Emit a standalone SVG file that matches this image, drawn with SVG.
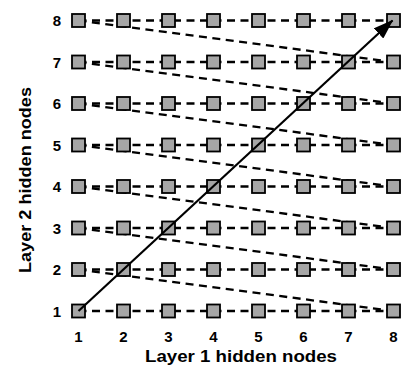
<svg xmlns="http://www.w3.org/2000/svg" width="402" height="365" viewBox="0 0 402 365">
  <defs>
    <style>
      .node { fill: #a6a6a6; stroke: #000; stroke-width: 1.8; }
      .dash { stroke: #000; stroke-width: 2.3; stroke-dasharray: 8 5.5; fill: none; }
      .trend { stroke: #000; stroke-width: 2.2; fill: none; }
      .lbl { font-family: "Liberation Sans", Arial, sans-serif; font-weight: bold; font-size: 15px; fill: #000; text-anchor: middle; }
      .axis { font-family: "Liberation Sans", Arial, sans-serif; font-weight: bold; font-size: 17px; fill: #000; text-anchor: middle; }
    </style>
    <marker id="head" markerUnits="userSpaceOnUse" markerWidth="20" markerHeight="14" refX="19" refY="7" orient="auto">
      <path d="M0,0 L20,7 L0,14 Z" fill="#000"/>
    </marker>
    <rect id="sq" x="-6.5" y="-6.5" width="13" height="13" class="node"/>
  </defs>

  <rect width="402" height="365" fill="#fff"/>

  <!-- dashed traversal: each row left to right, then back to the start of the next row -->
  <g id="connectors">
    <line class="dash" x1="78.5" y1="311" x2="393.5" y2="311"/>
    <line class="dash" x1="78.5" y1="269.5" x2="393.5" y2="269.5"/>
    <line class="dash" x1="78.5" y1="228" x2="393.5" y2="228"/>
    <line class="dash" x1="78.5" y1="186.5" x2="393.5" y2="186.5"/>
    <line class="dash" x1="78.5" y1="145" x2="393.5" y2="145"/>
    <line class="dash" x1="78.5" y1="103.5" x2="393.5" y2="103.5"/>
    <line class="dash" x1="78.5" y1="62" x2="393.5" y2="62"/>
    <line class="dash" x1="78.5" y1="20.5" x2="393.5" y2="20.5"/>

    <line class="dash" x1="78.5" y1="269.5" x2="393.5" y2="311"/>
    <line class="dash" x1="78.5" y1="228" x2="393.5" y2="269.5"/>
    <line class="dash" x1="78.5" y1="186.5" x2="393.5" y2="228"/>
    <line class="dash" x1="78.5" y1="145" x2="393.5" y2="186.5"/>
    <line class="dash" x1="78.5" y1="103.5" x2="393.5" y2="145"/>
    <line class="dash" x1="78.5" y1="62" x2="393.5" y2="103.5"/>
    <line class="dash" x1="78.5" y1="20.5" x2="393.5" y2="62"/>
  </g>

  <!-- 8 x 8 grid of hidden-node pairs -->
  <g id="row-1">
    <use href="#sq" x="78.5" y="311"/><use href="#sq" x="123.5" y="311"/><use href="#sq" x="168.5" y="311"/><use href="#sq" x="213.5" y="311"/>
    <use href="#sq" x="258.5" y="311"/><use href="#sq" x="303.5" y="311"/><use href="#sq" x="348.5" y="311"/><use href="#sq" x="393.5" y="311"/>
  </g>
  <g id="row-2">
    <use href="#sq" x="78.5" y="269.5"/><use href="#sq" x="123.5" y="269.5"/><use href="#sq" x="168.5" y="269.5"/><use href="#sq" x="213.5" y="269.5"/>
    <use href="#sq" x="258.5" y="269.5"/><use href="#sq" x="303.5" y="269.5"/><use href="#sq" x="348.5" y="269.5"/><use href="#sq" x="393.5" y="269.5"/>
  </g>
  <g id="row-3">
    <use href="#sq" x="78.5" y="228"/><use href="#sq" x="123.5" y="228"/><use href="#sq" x="168.5" y="228"/><use href="#sq" x="213.5" y="228"/>
    <use href="#sq" x="258.5" y="228"/><use href="#sq" x="303.5" y="228"/><use href="#sq" x="348.5" y="228"/><use href="#sq" x="393.5" y="228"/>
  </g>
  <g id="row-4">
    <use href="#sq" x="78.5" y="186.5"/><use href="#sq" x="123.5" y="186.5"/><use href="#sq" x="168.5" y="186.5"/><use href="#sq" x="213.5" y="186.5"/>
    <use href="#sq" x="258.5" y="186.5"/><use href="#sq" x="303.5" y="186.5"/><use href="#sq" x="348.5" y="186.5"/><use href="#sq" x="393.5" y="186.5"/>
  </g>
  <g id="row-5">
    <use href="#sq" x="78.5" y="145"/><use href="#sq" x="123.5" y="145"/><use href="#sq" x="168.5" y="145"/><use href="#sq" x="213.5" y="145"/>
    <use href="#sq" x="258.5" y="145"/><use href="#sq" x="303.5" y="145"/><use href="#sq" x="348.5" y="145"/><use href="#sq" x="393.5" y="145"/>
  </g>
  <g id="row-6">
    <use href="#sq" x="78.5" y="103.5"/><use href="#sq" x="123.5" y="103.5"/><use href="#sq" x="168.5" y="103.5"/><use href="#sq" x="213.5" y="103.5"/>
    <use href="#sq" x="258.5" y="103.5"/><use href="#sq" x="303.5" y="103.5"/><use href="#sq" x="348.5" y="103.5"/><use href="#sq" x="393.5" y="103.5"/>
  </g>
  <g id="row-7">
    <use href="#sq" x="78.5" y="62"/><use href="#sq" x="123.5" y="62"/><use href="#sq" x="168.5" y="62"/><use href="#sq" x="213.5" y="62"/>
    <use href="#sq" x="258.5" y="62"/><use href="#sq" x="303.5" y="62"/><use href="#sq" x="348.5" y="62"/><use href="#sq" x="393.5" y="62"/>
  </g>
  <g id="row-8">
    <use href="#sq" x="78.5" y="20.5"/><use href="#sq" x="123.5" y="20.5"/><use href="#sq" x="168.5" y="20.5"/><use href="#sq" x="213.5" y="20.5"/>
    <use href="#sq" x="258.5" y="20.5"/><use href="#sq" x="303.5" y="20.5"/><use href="#sq" x="348.5" y="20.5"/><use href="#sq" x="393.5" y="20.5"/>
  </g>

  <!-- diagonal trend arrow -->
  <g id="diagonal">
    <line class="trend" x1="78.5" y1="311" x2="392.5" y2="20.5" marker-end="url(#head)"/>
  </g>

  <!-- tick labels -->
  <g id="row-labels">
    <text class="lbl" x="57" y="316.5">1</text>
    <text class="lbl" x="57" y="275">2</text>
    <text class="lbl" x="57" y="233.5">3</text>
    <text class="lbl" x="57" y="192">4</text>
    <text class="lbl" x="57" y="150.5">5</text>
    <text class="lbl" x="57" y="109">6</text>
    <text class="lbl" x="57" y="67.5">7</text>
    <text class="lbl" x="57" y="26">8</text>
  </g>
  <g id="col-labels">
    <text class="lbl" x="78.5" y="341.5">1</text>
    <text class="lbl" x="123.5" y="341.5">2</text>
    <text class="lbl" x="168.5" y="341.5">3</text>
    <text class="lbl" x="213.5" y="341.5">4</text>
    <text class="lbl" x="258.5" y="341.5">5</text>
    <text class="lbl" x="303.5" y="341.5">6</text>
    <text class="lbl" x="348.5" y="341.5">7</text>
    <text class="lbl" x="393.5" y="341.5">8</text>
  </g>

  <!-- axis titles -->
  <text class="axis" x="241" y="362" textLength="192" lengthAdjust="spacingAndGlyphs">Layer 1 hidden nodes</text>
  <text class="axis" transform="translate(31 180) rotate(-90)" x="0" y="0" textLength="186" lengthAdjust="spacingAndGlyphs">Layer 2 hidden nodes</text>
</svg>
